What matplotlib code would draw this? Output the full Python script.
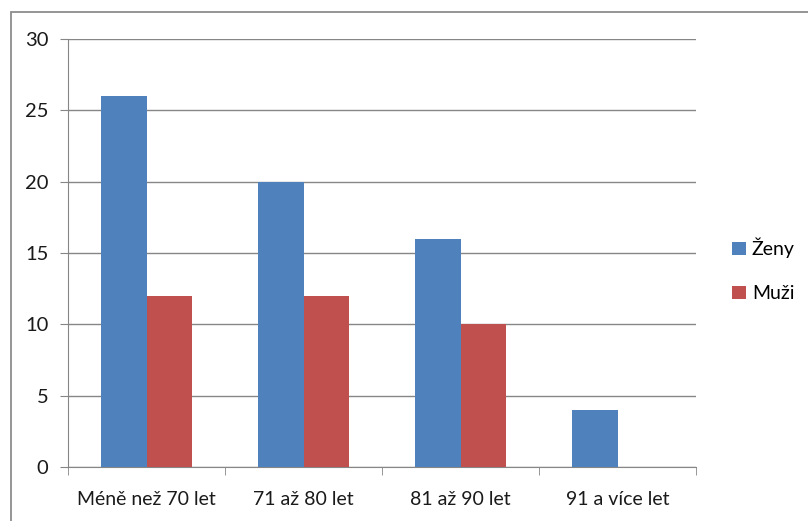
import matplotlib
matplotlib.use("Agg")
import matplotlib.pyplot as plt
from matplotlib.patches import Rectangle
import numpy as np

categories = ["Méně než 70 let", "71 až 80 let", "81 až 90 let", "91 a více let"]
zeny = [26, 20, 16, 4]
muzi = [12, 12, 10, 0]
yticks = [0, 5, 10, 15, 20, 25, 30]

W, H = 808, 521
fig = plt.figure(figsize=(W/100, H/100), dpi=100)
plt.rcParams['font.family'] = ['Lato', 'DejaVu Sans']

# outer frame (partially cropped)
fig.patches.append(Rectangle((11/W, -0.1), 1.2, (H-12)/H + 0.1, transform=fig.transFigure,
                             fill=False, edgecolor='#8c8c8c', linewidth=1.3))

ax = fig.add_axes([68/W, 1-467/H, (696-68)/W, (467-39)/H])
x = np.arange(len(categories))
bw = 0.29
blue = '#4f81bd'
red = '#c0504d'
ax.bar(x - bw/2, zeny, bw, color=blue, label='Ženy', zorder=3)
ax.bar(x + bw/2, muzi, bw, color=red, label='Muži', zorder=3)

ax.set_xlim(-0.5, len(categories)-0.5)
ax.set_ylim(0, 30)
ax.set_yticks(yticks)
ax.yaxis.grid(True, color='#868686', linewidth=1.0, zorder=0)
for s in ['top', 'right']:
    ax.spines[s].set_visible(False)
for s in ['left', 'bottom']:
    ax.spines[s].set_color('#868686')
ax.set_xticks(np.arange(len(categories)+1) - 0.5, minor=True)
ax.set_xticks(x)
ax.set_xticklabels(categories, fontsize=14, color='#1a1a1a')
ax.tick_params(axis='x', which='major', length=0, pad=17)
ax.tick_params(axis='x', which='minor', length=6, color='#868686')
ax.tick_params(axis='y', length=6, color='#868686', labelsize=14.5, labelcolor='#1a1a1a', pad=8)

leg = ax.legend(loc='center left', bbox_to_anchor=(1.03, 0.46), frameon=False,
                fontsize=14, handlelength=0.7, handleheight=0.7, handletextpad=0.3,
                labelspacing=1.4)

fig.savefig('out.png', dpi=100)
